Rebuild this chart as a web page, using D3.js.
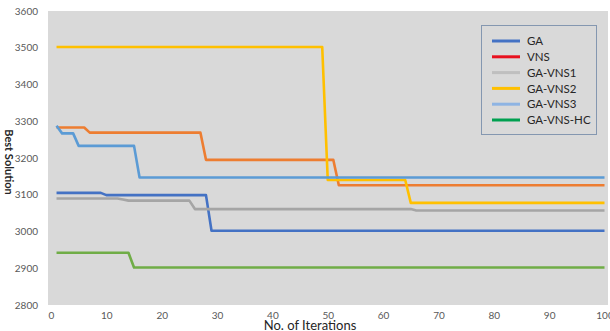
<!DOCTYPE html>
<html><head><meta charset="utf-8">
<script src="https://cdn.jsdelivr.net/npm/d3@7"></script>
<style>body{margin:0;background:#fff}svg{display:block;font-family:Lato,"Open Sans",sans-serif}</style>
</head><body><svg id="c" width="610" height="331"></svg>
<script>
// Series vertices (iteration, best solution)
const seriesNames = ["GA","VNS","GA-VNS1","GA-VNS2","GA-VNS3","GA-VNS-HC"];
const gaIter  = [1, 9, 10, 28, 29, 100];
const gaVal   = [3105, 3105, 3099, 3099, 3002, 3002];
const vnsIter = [1, 6, 7, 27, 28, 51, 52, 100];
const vnsVal  = [3283, 3283, 3269, 3269, 3195, 3195, 3126, 3126];
const v1Iter  = [1, 12, 13, 14, 25, 26, 65, 66, 100];
const v1Val   = [3090, 3090, 3087, 3084, 3084, 3061, 3061, 3057, 3057];
const v2Iter  = [1, 49, 50, 64, 65, 100];
const v2Val   = [3502, 3502, 3140, 3140, 3078, 3078];
const v3Iter  = [1, 2, 4, 5, 15, 16, 100];
const v3Val   = [3288, 3267, 3267, 3233, 3233, 3147, 3147];
const hcIter  = [1, 14, 15, 100];
const hcVal   = [2942, 2942, 2902, 2902];
const lineColors   = ["#4472C4","#ED7D31","#A5A5A5","#FFC000","#5B9BD5","#70AD47"];
const legendColors = ["#4472C4","#E8101E","#BFBFBF","#FFC000","#8EB4E3","#00A050"];
const xTicks = [0,10,20,30,40,50,60,70,80,90,100];
const yTicks = [2800,2900,3000,3100,3200,3300,3400,3500,3600];

const iters = [gaIter, vnsIter, v1Iter, v2Iter, v3Iter, hcIter];
const vals  = [gaVal, vnsVal, v1Val, v2Val, v3Val, hcVal];

const svg = d3.select("#c");
const x = d3.scaleLinear().domain([0,100]).range([51,604.5]);
const y = d3.scaleLinear().domain([2800,3600]).range([305,11]);

svg.append("rect").attr("x",48).attr("y",11).attr("width",560).attr("height",294).attr("fill","#D9D9D9");

const yAxis = d3.axisLeft(y).tickValues(yTicks).tickFormat(d3.format("d")).tickSize(0).tickPadding(0);
const gy = svg.append("g").attr("transform","translate(38,0)").call(yAxis);
gy.select(".domain").remove();
gy.selectAll("text").attr("fill","#595959").style("font-size","10px").style("font-family","Lato,sans-serif");

const xAxis = d3.axisBottom(x).tickValues(xTicks).tickFormat(d3.format("d")).tickSize(0).tickPadding(0);
const gx = svg.append("g").attr("transform","translate(0,312)").call(xAxis);
gx.select(".domain").remove();
gx.selectAll("text").attr("fill","#595959").style("font-size","10px").style("font-family","Lato,sans-serif");

const line = d3.line().x(d=>x(d[0])).y(d=>y(d[1]));
seriesNames.forEach((n,i)=>{
  const pts = iters[i].map((t,j)=>[t, vals[i][j]]);
  svg.append("path").datum(pts).attr("d",line).attr("fill","none")
    .attr("stroke",lineColors[i]).attr("stroke-width",2.6).attr("stroke-linejoin","round");
});

// Legend
svg.append("rect").attr("x",481.5).attr("y",25.5).attr("width",115).attr("height",109)
  .attr("fill","#D9D9D9").attr("stroke","#8497B0").attr("stroke-width",1);
seriesNames.forEach((n,i)=>{
  const ly = 41 + i*15.8;
  svg.append("line").attr("x1",492).attr("x2",520).attr("y1",ly).attr("y2",ly)
    .attr("stroke",legendColors[i]).attr("stroke-width",3);
  svg.append("text").attr("x",527).attr("y",ly+4.2).text(n)
    .attr("fill","#262626").style("font-size","11.5px");
});

svg.append("text").attr("x",310).attr("y",330).attr("text-anchor","middle")
  .attr("fill","#262626").style("font-size","13px").text("No. of Iterations");
svg.append("text").attr("transform","translate(5,162) rotate(90)").attr("text-anchor","middle")
  .attr("fill","#262626").style("font-size","11px").style("font-weight","bold").text("Best Solution");
</script></body></html>
